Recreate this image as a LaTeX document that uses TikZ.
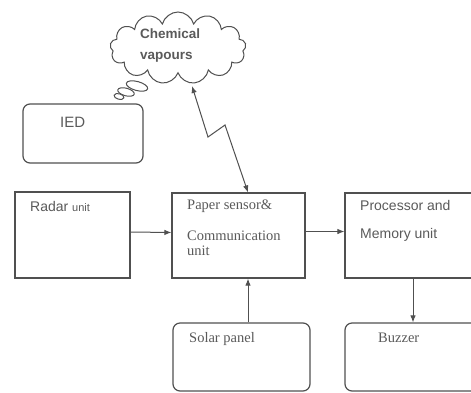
\documentclass[tikz,border=0pt]{standalone}
\usepackage{fontspec}
\setmainfont{Liberation Serif}
\newfontfamily\arialf{Liberation Sans}
\usetikzlibrary{shapes.symbols,arrows.meta}
\definecolor{linecol}{HTML}{505050}
\definecolor{textcol}{HTML}{5A5A5A}
\begin{document}
\begin{tikzpicture}[x=1pt,y=-1pt,
  sqbox/.style={draw=linecol, line width=1.2pt, inner sep=0pt},
  rbox/.style={sqbox, rounded corners=7pt},
  arr/.style={draw=linecol, line width=1pt, -{Latex[length=7pt,width=5.5pt]}},
  zz/.style={draw=linecol, line width=1pt, {Latex[length=7pt,width=5.5pt]}-{Latex[length=7pt,width=5.5pt]}},
  bubble/.style={draw=linecol, line width=1pt, fill=white},
  sanslbl/.style={anchor=base west, inner sep=0pt, text=textcol, font=\arialf\fontsize{14}{16}\selectfont},
  seriflbl/.style={anchor=base west, inner sep=0pt, text=textcol, font=\fontsize{14.5}{16}\selectfont}]
\useasboundingbox (0,0) rectangle (471,392);
\clip (0,0) rectangle (471,392);
\fill[white] (0,0) rectangle (471,392);

% boxes
\node[rbox, minimum width=120, minimum height=59] (ied) at (83,133.5) {};
\node[sqbox, minimum width=115, minimum height=86] (radar) at (72.5,235) {};
\node[sqbox, minimum width=133, minimum height=85] (paper) at (238.5,235.5) {};
\node[sqbox, minimum width=140, minimum height=85] (proc) at (415,235.5) {};
\node[rbox, minimum width=137, minimum height=68] (solar) at (241.5,357) {};
\node[rbox, minimum width=140, minimum height=68] (buzz) at (415,357) {};

% cloud
\node[cloud, draw=linecol, line width=1pt, cloud puffs=13, cloud ignores aspect,
      minimum width=136, minimum height=72, inner sep=0pt] (cloud) at (178,48) {};
\draw[bubble, rotate around={-15:(137,86)}] (137,86) ellipse [x radius=11, y radius=4.5];
\draw[bubble, rotate around={-15:(126,92)}] (126,92) ellipse [x radius=8.5, y radius=3.8];
\draw[bubble, rotate around={-15:(119,96.5)}] (119,96.5) ellipse [x radius=5, y radius=2.8];

% labels
\node[sanslbl, font=\arialf\bfseries\fontsize{13.5}{15}\selectfont] (t1) at (140,38) {Chemical};
\node[sanslbl, font=\arialf\bfseries\fontsize{13.5}{15}\selectfont] (t2) at (140,59) {vapours};
\node[sanslbl, font=\arialf\fontsize{15}{17}\selectfont] (t3) at (60,127) {IED};
\node[sanslbl] (t4) at (30,211) {Radar {\fontsize{11}{13}\selectfont unit}};
\node[seriflbl] (t5) at (187,209) {Paper sensor\&};
\node[seriflbl] (t6) at (187,240) {Communication};
\node[seriflbl] (t7) at (187,255) {unit};
\node[sanslbl] (t8) at (360,210) {Processor and};
\node[sanslbl] (t9) at (360,238) {Memory unit};
\node[seriflbl] (t10) at (189,342) {Solar panel};
\node[seriflbl] (t11) at (378,342) {Buzzer};

% connectors
\draw[arr] ([yshift=3pt]radar.east) -- ([yshift=3pt]paper.west);
\draw[arr] ([yshift=4pt]paper.east) -- ([yshift=4pt]proc.west);
\draw[arr] ([xshift=-2pt]proc.south) -- ([xshift=-2pt]buzz.north);
\coordinate (pin) at ([xshift=9.5pt]paper.south);
\draw[arr] (solar.north -| pin) -- (pin);
\coordinate (ctip) at (192,86);
\coordinate (zz1) at (208,137);
\coordinate (zz2) at (225,125);
\coordinate (ptop) at ([xshift=9.5pt]paper.north);
\draw[zz] (ctip) -- (zz1) -- (zz2) -- (ptop);
\end{tikzpicture}
\end{document}
